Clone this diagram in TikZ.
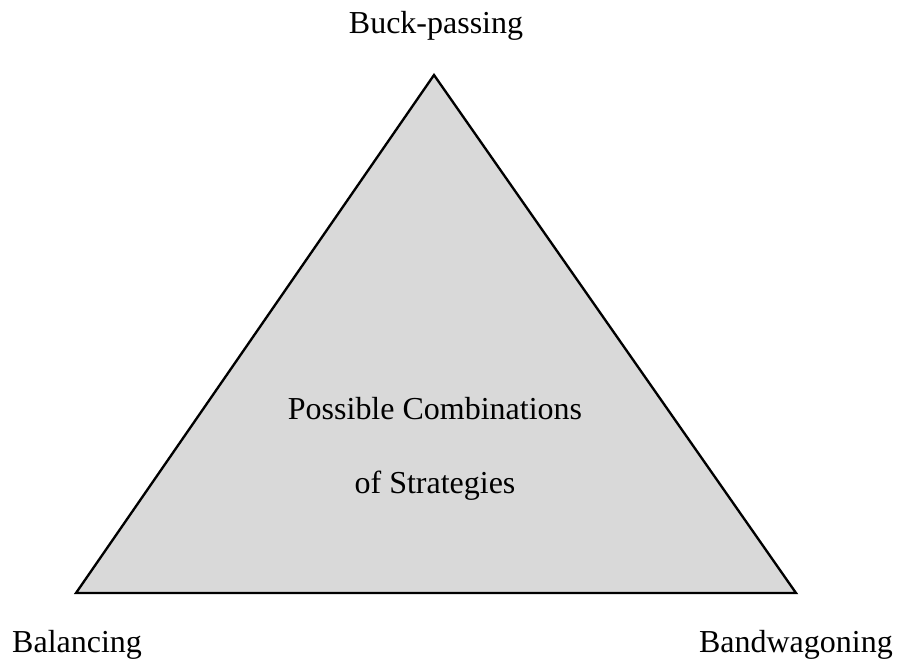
\documentclass[tikz,border=0pt]{standalone}
\usepackage{fontspec}
\setmainfont{Liberation Serif}
\usetikzlibrary{positioning}

\begin{document}
\begin{tikzpicture}[x=0.03cm,y=-0.03cm,
    lbl/.style={font=\fontsize{27.3}{32}\selectfont, inner sep=0pt}]
\useasboundingbox (0,0) rectangle (900,659);

\coordinate (top) at (434,75);
\coordinate (left) at (76,593);
\coordinate (right) at (796,593);

\filldraw[fill=black!15, draw=black, line width=2pt, line join=miter] (top) -- (left) -- (right) -- cycle;

\node[lbl, anchor=base] (buck) at (436,33) {Buck-passing};
\node[lbl, anchor=base west] (bal) at (12,652) {Balancing};
\node[lbl, anchor=base east] (band) at (893,652) {Bandwagoning};

\node[lbl, anchor=base] (comb) at (435,419) {Possible Combinations};
\node[lbl, anchor=base] (strat) at (435,493) {of Strategies};
\end{tikzpicture}
\end{document}
